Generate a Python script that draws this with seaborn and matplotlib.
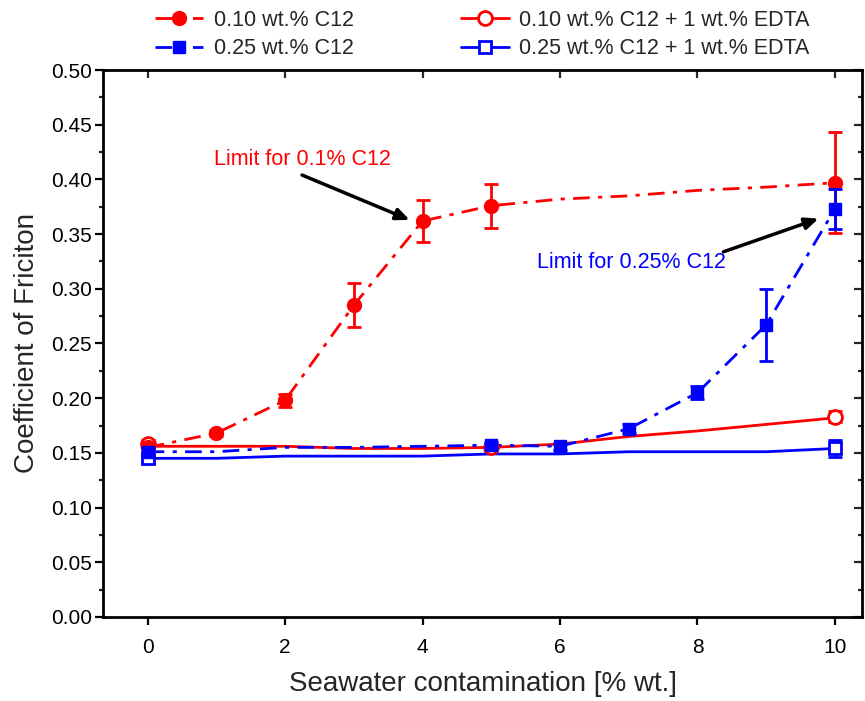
import matplotlib
matplotlib.use("Agg")
import matplotlib.pyplot as plt
from matplotlib.lines import Line2D
import numpy as np
import pandas as pd
import seaborn as sns

sns.set_style("ticks")
plt.rcParams["font.family"] = ["Liberation Sans", "DejaVu Sans"]

# seawater contamination levels
x = [0, 1, 2, 3, 4, 5, 6, 7, 8, 9, 10]

# curves
c10_line = [0.155, 0.168, 0.198, 0.285, 0.362, 0.376, 0.382, 0.385, 0.390, 0.393, 0.397]
c25_line = [0.151, 0.151, 0.155, 0.155, 0.156, 0.157, 0.156, 0.172, 0.205, 0.267, 0.373]
c10e_line = [0.156, 0.156, 0.156, 0.154, 0.154, 0.155, 0.158, 0.165, 0.170, 0.176, 0.182]
c25e_line = [0.145, 0.145, 0.147, 0.147, 0.147, 0.149, 0.149, 0.151, 0.151, 0.151, 0.154]

# measured points with error bars
c10_x = [0, 1, 2, 3, 4, 5, 10]
c10_y = [0.155, 0.168, 0.198, 0.285, 0.362, 0.376, 0.397]
c10_err = [0.004, 0.003, 0.006, 0.020, 0.019, 0.020, 0.046]

c25_x = [0, 5, 6, 7, 8, 9, 10]
c25_y = [0.151, 0.157, 0.156, 0.172, 0.205, 0.267, 0.373]
c25_err = [0.003, 0.003, 0.003, 0.004, 0.006, 0.033, 0.018]

c10e_x = [0, 5, 10]
c10e_y = [0.158, 0.155, 0.183]
c10e_err = [0.004, 0.003, 0.005]

c25e_x = [0, 10]
c25e_y = [0.145, 0.154]
c25e_err = [0.004, 0.008]

labels = ["0.10 wt.% C12", "0.25 wt.% C12",
          "0.10 wt.% C12 + 1 wt.% EDTA", "0.25 wt.% C12 + 1 wt.% EDTA"]

red = "#ff0000"
blue = "#0000ff"
dashdot = (0, (6, 3, 1.5, 3))

fig = plt.figure(figsize=(8.65, 7.01), dpi=100)
ax = fig.add_axes([0.119, 0.12, 0.878, 0.78])

df = pd.DataFrame({"x": x, "a": c10_line, "b": c25_line, "c": c10e_line, "d": c25e_line})

sns.lineplot(data=df, x="x", y="d", ax=ax, color=blue, lw=2)
sns.lineplot(data=df, x="x", y="c", ax=ax, color=red, lw=2)
sns.lineplot(data=df, x="x", y="b", ax=ax, color=blue, lw=2, linestyle=dashdot)
sns.lineplot(data=df, x="x", y="a", ax=ax, color=red, lw=2, linestyle=dashdot)

ax.errorbar(c25e_x, c25e_y, yerr=c25e_err, fmt="s", ms=9, mfc="white", mec=blue,
            mew=2, ecolor=blue, elinewidth=2, capsize=5, capthick=2, zorder=5)
ax.errorbar(c10e_x, c10e_y, yerr=c10e_err, fmt="o", ms=10, mfc="white", mec=red,
            mew=2, ecolor=red, elinewidth=2, capsize=5, capthick=2, zorder=5)
ax.errorbar(c10_x, c10_y, yerr=c10_err, fmt="o", ms=10, color=red,
            ecolor=red, elinewidth=2, capsize=5, capthick=2, zorder=6)
ax.errorbar(c25_x, c25_y, yerr=c25_err, fmt="s", ms=9, color=blue,
            ecolor=blue, elinewidth=2, capsize=5, capthick=2, zorder=7)

ax.set_xlim(-0.65, 10.4)
ax.set_ylim(0, 0.5)
ax.set_xticks([0, 2, 4, 6, 8, 10])
ax.set_yticks(np.arange(0, 0.51, 0.05))
ax.set_yticks(np.arange(0.025, 0.5, 0.05), minor=True)
ax.yaxis.set_major_formatter(matplotlib.ticker.FormatStrFormatter("%.2f"))
ax.tick_params(axis="both", which="major", direction="out", length=6, width=1.6,
               labelsize=15, colors="black")
ax.tick_params(axis="x", which="major", pad=9)
ax.tick_params(axis="y", which="major", pad=2)
ax.tick_params(axis="y", which="minor", direction="out", length=3, width=1.6)
for s in ax.spines.values():
    s.set_linewidth(2)
    s.set_color("black")

top = ax.secondary_xaxis("top")
top.set_xticks([0, 2, 4, 6, 8, 10])
top.tick_params(direction="in", length=6, width=1.6, labeltop=False)
right = ax.secondary_yaxis("right")
right.set_yticks(np.arange(0, 0.51, 0.05))
right.set_yticks(np.arange(0.025, 0.5, 0.05), minor=True)
right.tick_params(which="major", direction="in", length=6, width=1.6, labelright=False)
right.tick_params(which="minor", direction="in", length=3, width=1.6)

ax.set_xlabel("Seawater contamination [% wt.]", fontsize=20, labelpad=10)
ax.set_ylabel("Coefficient of Friciton", fontsize=20, labelpad=8)

ax.text(0.97, 0.4185, "Limit for 0.1% C12", color=red, fontsize=15.5, va="center")
ax.annotate("", xy=(3.85, 0.362), xytext=(2.21, 0.405),
            arrowprops=dict(arrowstyle="-|>,head_length=0.8,head_width=0.35", color="black", lw=2.5))
ax.text(5.67, 0.324, "Limit for 0.25% C12", color=blue, fontsize=15.5, va="center")
ax.annotate("", xy=(9.80, 0.365), xytext=(8.34, 0.333),
            arrowprops=dict(arrowstyle="-|>,head_length=0.8,head_width=0.35", color="black", lw=2.5))

handles = [
    Line2D([], [], color=red, lw=2, linestyle=dashdot, marker="o", ms=10),
    Line2D([], [], color=blue, lw=2, linestyle=dashdot, marker="s", ms=9),
    Line2D([], [], color=red, lw=2, marker="o", ms=10, mfc="white", mew=2),
    Line2D([], [], color=blue, lw=2, marker="s", ms=9, mfc="white", mew=2),
]
ax.legend(handles, labels, ncol=2, loc="lower center", bbox_to_anchor=(0.5, 1.0),
          frameon=False, fontsize=15.5, handlelength=2.2, columnspacing=5,
          handletextpad=0.5, labelspacing=0.35, borderaxespad=0.1)

fig.savefig("out.png", dpi=100)
